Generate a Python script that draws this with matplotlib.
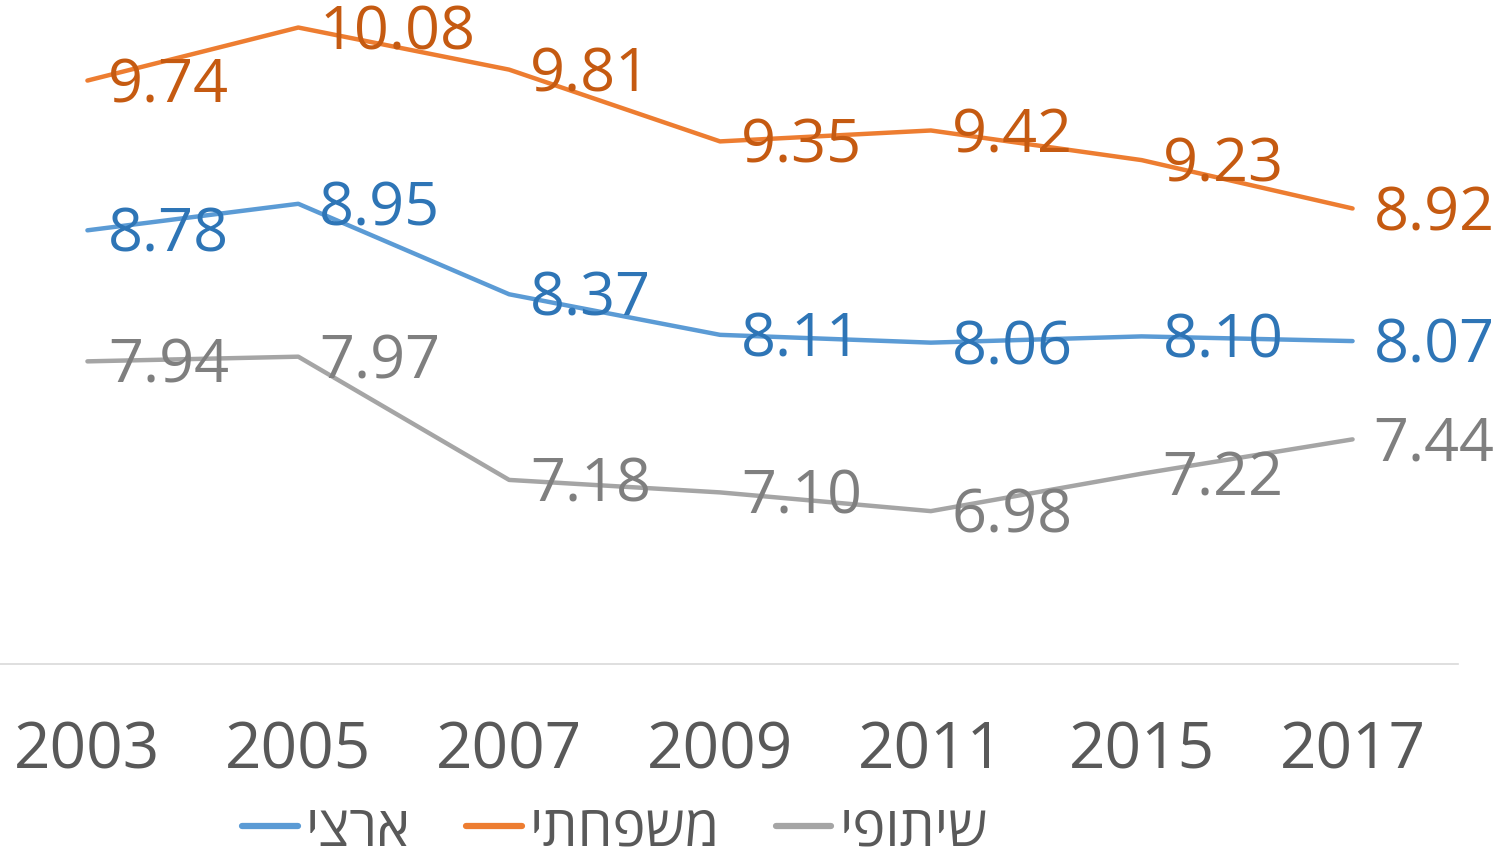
import numpy as np
import matplotlib
matplotlib.use('Agg')
from matplotlib import pyplot as plt

plt.rcParams['font.family'] = ['Open Sans', 'DejaVu Sans']

# Data
years = ['2003', '2005', '2007', '2009', '2011', '2015', '2017']
artzi = [8.78, 8.95, 8.37, 8.11, 8.06, 8.10, 8.07]
mishpachti = [9.74, 10.08, 9.81, 9.35, 9.42, 9.23, 8.92]
shitufi = [7.94, 7.97, 7.18, 7.10, 6.98, 7.22, 7.44]
names = ['ארצי', 'משפחתי', 'שיתופי']

line_colors = ['#5B9BD5', '#ED7D31', '#A5A5A5']
label_colors = ['#2E75B6', '#C55A11', '#7F7F7F']

fig = plt.figure(figsize=(15.12, 8.59), dpi=100)
W, H = 1512, 859
# axes placed in pixel terms: x from -18 to 1458, y from 664 (value 6) up to value 10.5
left, right = -18, 1458
y_bottom, y_top = 664, 664 - 4.5 * 156
ax = fig.add_axes([left / W, 1 - y_bottom / H, (right - left) / W, (y_bottom - y_top) / H])
ax.patch.set_alpha(0)

x = np.arange(len(years))
for vals, name, lc, tc in zip([artzi, mishpachti, shitufi], names, line_colors, label_colors):
    # matplotlib has no bidi, so reverse Hebrew for display
    ax.plot(x, vals, color=lc, lw=3.2, solid_capstyle='round', label=name[::-1])
    for xi, v in zip(x, vals):
        ax.annotate(f'{v:.2f}', (xi, v), xytext=(15, -4), textcoords='offset points',
                    ha='left', va='center', fontsize=44, color=tc)

ax.set_xlim(-0.5, 6.5)
ax.set_ylim(6, 10.5)
ax.set_yticks([])
ax.set_xticks(x)
ax.set_xticklabels(years, fontsize=46, color='#595959')
ax.tick_params(axis='x', length=0, pad=40)
for s in ['top', 'right', 'left']:
    ax.spines[s].set_visible(False)
ax.spines['bottom'].set_color('#D9D9D9')
ax.spines['bottom'].set_linewidth(1.2)

leg = fig.legend(loc='center', bbox_to_anchor=(615 / W, 1 - 831 / H), ncol=3, frameon=False,
                 fontsize=40, labelcolor='#595959', handlelength=1.0, handletextpad=0.15,
                 columnspacing=1.0, borderpad=0.05)
for h in leg.legend_handles:
    h.set_linewidth(4.5)

fig.savefig('out.png', dpi=100)
